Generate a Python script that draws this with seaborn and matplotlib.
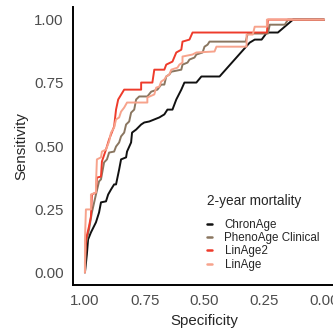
import seaborn as sns
import matplotlib
matplotlib.use("Agg")
import matplotlib.pyplot as plt
import pandas as pd

# ROC coordinates (specificity, sensitivity)
models = ["ChronAge", "PhenoAge Clinical", "LinAge2", "LinAge"]
colors = ["#111111", "#8a7660", "#ee3b2b", "#f7a38c"]

chron_spec = [1.000, 0.992, 0.987, 0.975, 0.954, 0.941, 0.933, 0.912, 0.903, 0.891,
              0.878, 0.870, 0.857, 0.849, 0.828, 0.824, 0.807, 0.803, 0.786, 0.765,
              0.752, 0.731, 0.689, 0.668, 0.655, 0.634, 0.618, 0.597, 0.584, 0.534,
              0.513, 0.437, 0.311, 0.290, 0.261, 0.239, 0.193, 0.130, 0.000]
chron_sens = [0.000, 0.071, 0.130, 0.158, 0.198, 0.237, 0.277, 0.281, 0.308, 0.328,
              0.348, 0.348, 0.407, 0.447, 0.455, 0.478, 0.514, 0.553, 0.565, 0.585,
              0.593, 0.597, 0.613, 0.625, 0.644, 0.644, 0.684, 0.723, 0.751, 0.751,
              0.775, 0.775, 0.909, 0.921, 0.921, 0.949, 0.949, 1.000, 1.000]

pheno_spec = [1.000, 0.996, 0.983, 0.971, 0.954, 0.941, 0.933, 0.920, 0.908, 0.899,
              0.878, 0.870, 0.857, 0.849, 0.836, 0.828, 0.815, 0.807, 0.794, 0.786,
              0.773, 0.739, 0.723, 0.697, 0.681, 0.668, 0.660, 0.647, 0.639, 0.597,
              0.592, 0.571, 0.563, 0.542, 0.534, 0.508, 0.500, 0.487, 0.479, 0.328,
              0.319, 0.235, 0.227, 0.164, 0.151, 0.000]
pheno_sens = [0.000, 0.111, 0.170, 0.237, 0.308, 0.360, 0.368, 0.435, 0.447, 0.474,
              0.478, 0.498, 0.514, 0.538, 0.553, 0.585, 0.597, 0.632, 0.644, 0.684,
              0.696, 0.696, 0.715, 0.723, 0.743, 0.743, 0.775, 0.783, 0.794, 0.802,
              0.822, 0.830, 0.842, 0.850, 0.862, 0.870, 0.893, 0.901, 0.913, 0.913,
              0.945, 0.945, 0.980, 0.980, 1.000, 1.000]

lin2_spec = [1.000, 1.000, 0.996, 0.983, 0.975, 0.971, 0.954, 0.950, 0.933, 0.929,
             0.912, 0.899, 0.878, 0.870, 0.861, 0.836, 0.765, 0.765, 0.718, 0.710,
             0.668, 0.660, 0.634, 0.618, 0.597, 0.592, 0.563, 0.550, 0.239, 0.235,
             0.000]
lin2_sens = [0.000, 0.040, 0.130, 0.182, 0.221, 0.308, 0.316, 0.375, 0.379, 0.439,
             0.486, 0.526, 0.577, 0.644, 0.684, 0.723, 0.723, 0.751, 0.751, 0.802,
             0.802, 0.822, 0.834, 0.870, 0.881, 0.913, 0.921, 0.949, 0.949, 1.000,
             1.000]

lin_spec = [1.000, 1.000, 0.996, 0.975, 0.975, 0.954, 0.954, 0.950, 0.933, 0.929,
            0.912, 0.899, 0.891, 0.878, 0.870, 0.857, 0.849, 0.836, 0.824, 0.739,
            0.739, 0.710, 0.702, 0.689, 0.681, 0.668, 0.660, 0.647, 0.639, 0.613,
            0.605, 0.592, 0.592, 0.550, 0.534, 0.458, 0.450, 0.324, 0.324, 0.298,
            0.290, 0.239, 0.239, 0.000]
lin_sens = [0.000, 0.130, 0.249, 0.249, 0.308, 0.316, 0.348, 0.447, 0.455, 0.478,
            0.486, 0.518, 0.553, 0.573, 0.605, 0.613, 0.636, 0.652, 0.672, 0.672,
            0.692, 0.704, 0.731, 0.735, 0.755, 0.763, 0.775, 0.783, 0.802, 0.810,
            0.822, 0.830, 0.854, 0.862, 0.870, 0.874, 0.893, 0.893, 0.941, 0.941,
            0.972, 0.972, 1.000, 1.000]

specs = [chron_spec, pheno_spec, lin2_spec, lin_spec]
senss = [chron_sens, pheno_sens, lin2_sens, lin_sens]

frames = []
for m, sp, se in zip(models, specs, senss):
    frames.append(pd.DataFrame({"model": m, "Specificity": sp, "Sensitivity": se}))
df = pd.concat(frames, ignore_index=True)

sns.set_style("white")
plt.rcParams["font.family"] = ["Liberation Sans", "DejaVu Sans"]

fig = plt.figure(figsize=(3.33, 3.31), dpi=100)
ax = fig.add_axes([73 / 333, 1 - 285 / 331, 263 / 333, 278 / 331])

sns.lineplot(data=df, x="Specificity", y="Sensitivity", hue="model",
             hue_order=models, palette=colors, sort=False, estimator=None,
             linewidth=1.4, ax=ax)

ax.set_xlim(1.05, -0.05)
ax.set_ylim(-0.05, 1.05)
ax.set_xticks([1.0, 0.75, 0.5, 0.25, 0.0])
ax.set_xticklabels(["1.00", "0.75", "0.50", "0.25", "0.00"])
ax.set_yticks([0.0, 0.25, 0.5, 0.75, 1.0])
ax.set_yticklabels(["0.00", "0.25", "0.50", "0.75", "1.00"])
ax.tick_params(axis="both", length=3.6, width=1.1, color="#333333",
               labelsize=10.8, labelcolor="#4d4d4d", pad=3)
ax.set_xlabel("Specificity", fontsize=10.8, labelpad=4)
ax.set_ylabel("Sensitivity", fontsize=10.8, labelpad=4)
for s in ["top", "right"]:
    ax.spines[s].set_visible(False)
for s in ["left", "bottom"]:
    ax.spines[s].set_linewidth(1.4)
    ax.spines[s].set_color("black")

handles, labels = ax.get_legend_handles_labels()
leg = ax.legend(handles, labels, title="2-year mortality", frameon=False,
                loc="upper left", bbox_to_anchor=(207 / 333, 1 - 194 / 331),
                bbox_transform=fig.transFigure, fontsize=8.4, title_fontsize=9.8,
                alignment="left", labelspacing=0.1, handlelength=0.4,
                handletextpad=1.1, borderpad=0, borderaxespad=0)
for h in leg.legend_handles:
    h.set_linewidth(1.8)
leg._legend_box.sep = 8

fig.savefig("out.png", dpi=100)
